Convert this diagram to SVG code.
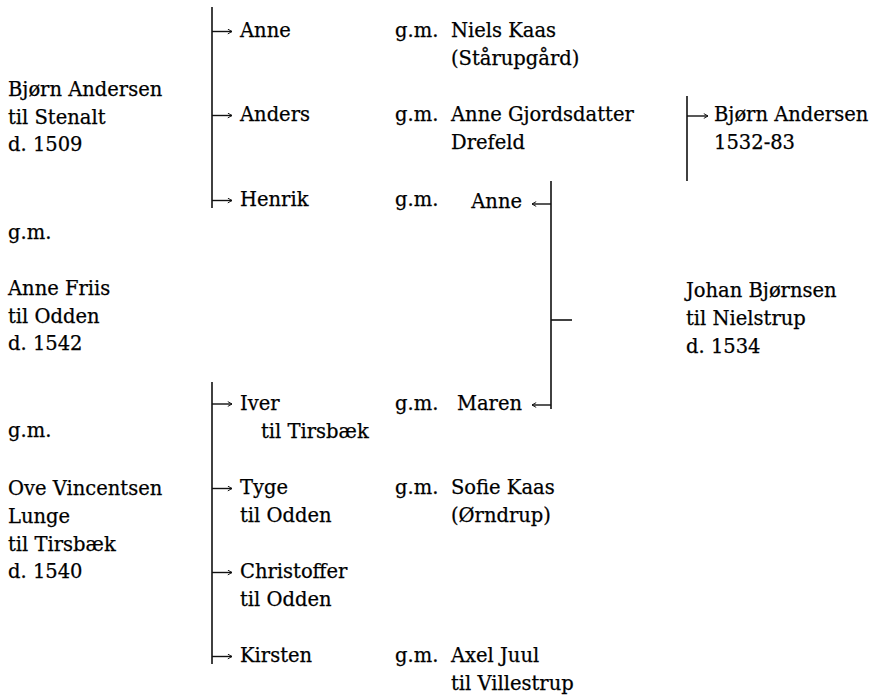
<svg xmlns="http://www.w3.org/2000/svg" width="876" height="700" viewBox="0 0 876 700">
<defs>
<style>
text{font-family:"DejaVu Serif","Liberation Serif",serif;font-size:19.5px;fill:#000;stroke:#000;stroke-width:0.25}
.ln{stroke:#111;stroke-width:1.6;fill:none}
.ar{stroke:#111;stroke-width:1.4;fill:none;marker-end:url(#arr)}
</style>
<marker id="arr" viewBox="0 0 10 10" refX="10" refY="5" markerWidth="6" markerHeight="6" orient="auto" markerUnits="userSpaceOnUse">
<path d="M3,1 L10,5 L3,9" fill="none" stroke="#111" stroke-width="1.6"/>
</marker>
</defs>
<rect width="876" height="700" fill="#fff"/>
<g id="connectors">
<line class="ln" x1="212" y1="7" x2="212" y2="208"/>
<line class="ar" x1="212" y1="31.5" x2="232" y2="31.5"/>
<line class="ar" x1="212" y1="115.5" x2="232" y2="115.5"/>
<line class="ar" x1="212" y1="200.5" x2="232" y2="200.5"/>
<line class="ln" x1="212" y1="382" x2="212" y2="664"/>
<line class="ar" x1="212" y1="404" x2="232" y2="404"/>
<line class="ar" x1="212" y1="488.5" x2="232" y2="488.5"/>
<line class="ar" x1="212" y1="572.5" x2="232" y2="572.5"/>
<line class="ar" x1="212" y1="656.5" x2="232" y2="656.5"/>
<line class="ln" x1="551" y1="181" x2="551" y2="409"/>
<line class="ar" x1="551" y1="204" x2="532" y2="204"/>
<line class="ar" x1="551" y1="405" x2="532" y2="405"/>
<line class="ln" x1="551" y1="320" x2="572" y2="320"/>
<line class="ln" x1="687" y1="96" x2="687" y2="181"/>
<line class="ar" x1="687" y1="116" x2="708" y2="116"/>
</g>
<g id="bjorn-andersen">
<text x="8" y="96">Bjørn Andersen</text>
<text x="8" y="123.5">til Stenalt</text>
<text x="8" y="151">d. 1509</text>
</g>
<g id="gm1"><text x="8" y="239">g.m.</text></g>
<g id="anne-friis">
<text x="8" y="295">Anne Friis</text>
<text x="8" y="322.5">til Odden</text>
<text x="8" y="350">d. 1542</text>
</g>
<g id="gm2"><text x="8" y="437">g.m.</text></g>
<g id="ove-lunge">
<text x="8" y="495">Ove Vincentsen</text>
<text x="8" y="523">Lunge</text>
<text x="8" y="550.5">til Tirsbæk</text>
<text x="8" y="578">d. 1540</text>
</g>
<g id="anne"><text x="240" y="37">Anne</text><text x="395" y="37">g.m.</text></g>
<g id="niels-kaas"><text x="451" y="37">Niels Kaas</text><text x="451" y="65">(Stårupgård)</text></g>
<g id="anders"><text x="240" y="121">Anders</text><text x="395" y="121">g.m.</text></g>
<g id="anne-gjordsdatter"><text x="451" y="121">Anne Gjordsdatter</text><text x="451" y="149">Drefeld</text></g>
<g id="bjorn-andersen-jr"><text x="714" y="121">Bjørn Andersen</text><text x="714" y="149">1532-83</text></g>
<g id="henrik"><text x="240" y="206">Henrik</text><text x="395" y="206">g.m.</text></g>
<g id="anne-b"><text x="522" y="208" text-anchor="end">Anne</text></g>
<g id="johan-bjornsen">
<text x="686" y="297">Johan Bjørnsen</text>
<text x="686" y="325">til Nielstrup</text>
<text x="686" y="352.5">d. 1534</text>
</g>
<g id="iver"><text x="240" y="410">Iver</text><text x="261" y="437.5">til Tirsbæk</text><text x="395" y="410">g.m.</text></g>
<g id="maren"><text x="522" y="410" text-anchor="end">Maren</text></g>
<g id="tyge"><text x="240" y="494">Tyge</text><text x="240" y="521.5">til Odden</text><text x="395" y="494">g.m.</text></g>
<g id="sofie-kaas"><text x="451" y="494">Sofie Kaas</text><text x="451" y="521.5">(Ørndrup)</text></g>
<g id="christoffer"><text x="240" y="578">Christoffer</text><text x="240" y="605.5">til Odden</text></g>
<g id="kirsten"><text x="240" y="662">Kirsten</text><text x="395" y="662">g.m.</text></g>
<g id="axel-juul"><text x="451" y="662">Axel Juul</text><text x="451" y="689.5">til Villestrup</text></g>
</svg>
